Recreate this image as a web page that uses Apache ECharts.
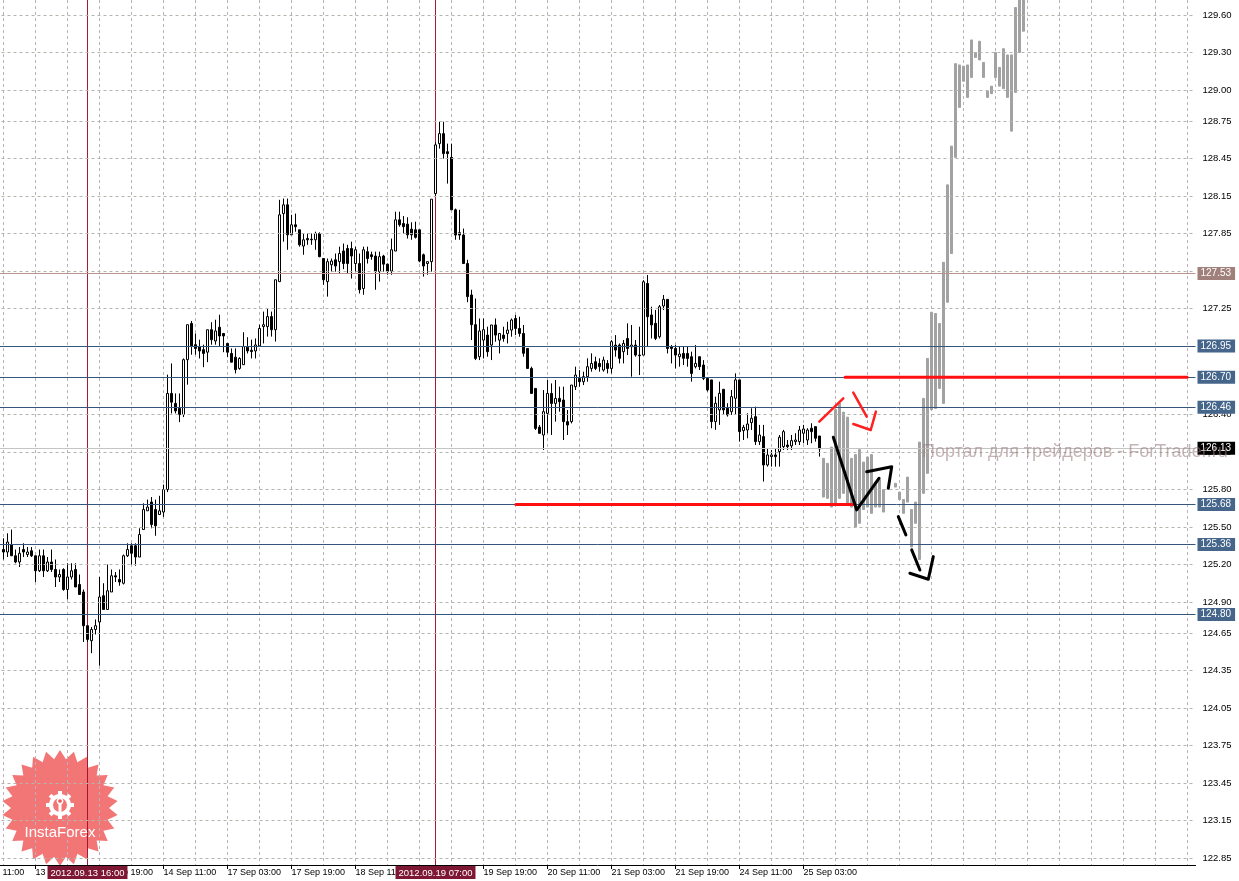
<!DOCTYPE html>
<html><head><meta charset="utf-8">
<script src="https://cdn.jsdelivr.net/npm/echarts@6/dist/echarts.min.js"></script>
<style>html,body{margin:0;padding:0;background:#fff}#c{width:1239px;height:881px}</style>
</head><body><div id="c"></div><script>
// ---- data ----
const categoryCount = 307;           // hourly slots, 12 Sep 11:00 onward
const xTickStep = 16;
const xTickLabels = ["12 Sep 11:00","13 Sep 03:00","13 Sep 19:00","14 Sep 11:00","17 Sep 03:00","17 Sep 19:00","18 Sep 11:00","19 Sep 03:00","19 Sep 19:00","20 Sep 11:00","21 Sep 03:00","21 Sep 19:00","24 Sep 11:00","25 Sep 03:00"];
const yTickValues = [129.60,129.30,129.00,128.75,128.45,128.15,127.85,127.55,127.25,126.95,126.70,126.40,126.10,125.80,125.50,125.20,124.90,124.65,124.35,124.05,123.75,123.45,123.15,122.85];

const firstCandle = 8;
// [open, close, low, high]
const candles = [
[125.32,125.30,125.24,125.41],[125.30,125.38,125.26,125.45],[125.36,125.27,125.27,125.48],[125.27,125.22,125.21,125.32],
[125.22,125.29,125.18,125.34],[125.32,125.30,125.26,125.37],[125.28,125.30,125.26,125.34],[125.31,125.27,125.26,125.34],
[125.27,125.15,125.06,125.27],[125.15,125.27,125.14,125.32],[125.27,125.15,125.10,125.32],[125.15,125.22,125.14,125.26],
[125.22,125.16,125.14,125.32],[125.16,125.10,125.02,125.24],[125.10,125.12,125.06,125.16],[125.16,125.00,124.99,125.17],
[125.00,125.10,124.92,125.21],[125.10,125.15,125.08,125.21],[125.16,125.02,125.02,125.21],[125.04,124.96,124.96,125.12],
[124.98,124.71,124.58,125.00],[124.71,124.60,124.58,124.71],[124.59,124.68,124.49,124.70],[124.68,124.71,124.64,124.76],
[124.74,124.94,124.39,125.10],[124.95,124.84,124.84,125.05],[124.84,124.99,124.84,125.20],[124.98,125.11,124.98,125.16],
[125.11,125.10,125.06,125.14],[125.08,125.06,125.03,125.16],[125.05,125.27,125.04,125.28],[125.27,125.32,125.26,125.37],
[125.35,125.29,125.20,125.37],[125.35,125.26,125.19,125.37],[125.26,125.44,125.26,125.49],[125.48,125.64,125.48,125.69],
[125.63,125.66,125.63,125.72],[125.70,125.52,125.49,125.74],[125.64,125.51,125.43,125.72],[125.60,125.63,125.60,125.75],
[125.62,125.80,125.58,125.84],[125.80,126.57,125.78,126.72],[126.57,126.50,126.41,126.81],[126.49,126.43,126.41,126.57],
[126.45,126.40,126.34,126.57],[126.40,126.84,126.38,126.85],[126.84,127.12,126.64,127.12],[127.13,126.95,126.88,127.15],
[126.96,126.93,126.88,127.05],[126.945,126.91,126.85,127.00],[126.92,126.89,126.78,126.96],[126.90,127.08,126.82,127.08],
[127.08,127.00,126.96,127.14],[126.99,127.07,126.96,127.16],[127.10,127.03,126.95,127.20],[127.05,127.03,126.90,127.05],
[126.97,126.90,126.86,126.97],[126.89,126.82,126.82,126.93],[126.86,126.76,126.73,126.93],[126.77,126.85,126.76,126.86],
[126.80,126.945,126.80,127.06],[126.94,126.91,126.89,127.02],[126.915,126.905,126.85,127.00],[126.91,126.958,126.85,127.01],
[126.95,127.09,126.945,127.12],[127.105,127.12,126.97,127.225],[127.105,127.185,127.025,127.25],[127.185,127.08,127.025,127.225],
[127.08,127.48,126.985,127.48],[127.465,128.00,127.465,128.12],[128.01,128.08,127.785,128.13],[128.08,127.84,127.72,128.13],
[127.84,127.92,127.84,128.00],[127.92,127.905,127.865,128.01],[127.88,127.76,127.745,127.88],[127.75,127.80,127.68,127.85],
[127.81,127.80,127.76,127.85],[127.805,127.80,127.76,127.85],[127.80,127.85,127.72,127.865],[127.85,127.665,127.66,127.86],
[127.65,127.48,127.44,127.65],[127.465,127.625,127.345,127.65],[127.60,127.63,127.545,127.65],[127.64,127.59,127.545,127.69],
[127.625,127.69,127.53,127.745],[127.71,127.61,127.565,127.77],[127.73,127.61,127.53,127.76],[127.73,127.67,127.49,127.785],
[127.61,127.72,127.545,127.745],[127.61,127.40,127.37,127.69],[127.41,127.72,127.36,127.745],[127.705,127.65,127.61,127.745],
[127.68,127.665,127.64,127.705],[127.67,127.545,127.40,127.705],[127.545,127.665,127.465,127.705],[127.67,127.605,127.545,127.68],
[127.605,127.545,127.52,127.61],[127.55,127.72,127.52,127.81],[127.71,127.96,127.71,128.025],[127.96,127.92,127.905,128.025],
[127.93,127.905,127.85,127.99],[127.925,127.84,127.81,127.98],[127.885,127.84,127.80,127.94],[127.88,127.82,127.81,127.945],
[127.88,127.63,127.62,127.88],[127.68,127.59,127.505,127.69],[127.61,127.625,127.52,127.625],[127.625,128.125,127.545,128.125],
[128.17,128.56,128.15,128.58],[128.57,128.65,128.53,128.745],[128.65,128.49,128.45,128.745],[128.505,128.49,128.25,128.57],
[128.46,128.04,128.04,128.57],[128.04,127.838,127.80,128.05],[127.857,127.838,127.80,128.04],[127.838,127.61,127.61,127.89],
[127.61,127.345,127.30,127.64],[127.358,127.12,126.997,127.40],[127.12,126.85,126.837,127.33],[126.864,127.07,126.837,127.17],
[126.997,127.08,126.85,127.17],[127.037,126.904,126.864,127.104],[126.957,127.118,126.837,127.118],[127.118,127.037,126.984,127.17],
[126.997,127.05,126.89,127.05],[127.037,127.01,126.984,127.104],[127.05,127.077,126.97,127.144],[127.077,127.158,127.024,127.17],
[127.17,127.09,127.037,127.198],[127.09,127.05,127.024,127.184],[127.05,126.891,126.864,127.118],[126.93,126.77,126.77,126.93],
[126.77,126.57,126.57,126.784],[126.61,126.29,126.277,126.61],[126.30,126.25,126.25,126.317],[126.237,126.424,126.117,126.597],
[126.41,126.57,126.25,126.677],[126.57,126.49,126.237,126.65],[126.49,126.53,126.344,126.677],[126.53,126.504,126.424,126.624],
[126.517,126.344,126.197,126.624],[126.344,126.317,126.237,126.437],[126.344,126.637,126.33,126.637],[126.624,126.717,126.597,126.784],
[126.69,126.664,126.624,126.757],[126.664,126.704,126.637,126.744],[126.704,126.784,126.664,126.851],[126.77,126.81,126.744,126.891],
[126.824,126.77,126.757,126.864],[126.81,126.784,126.744,126.851],[126.757,126.837,126.744,126.864],[126.81,126.77,126.73,126.837],
[126.77,126.984,126.73,126.997],[126.957,126.917,126.864,127.037],[126.957,126.851,126.81,126.97],[126.904,126.97,126.81,126.997],
[127.01,126.93,126.877,127.131],[126.944,126.957,126.704,127.118],[126.957,126.877,126.864,126.997],[126.877,126.872,126.717,127.104],
[126.877,127.464,126.877,127.477],[127.45,127.184,126.944,127.518],[127.198,127.118,127.01,127.264],[127.131,127.01,126.997,127.238],
[127.024,127.264,127.01,127.278],[127.27,127.323,127.238,127.358],[127.323,126.93,126.89,127.323],[126.944,126.93,126.81,126.957],
[126.93,126.877,126.77,126.957],[126.864,126.885,126.784,126.944],[126.89,126.851,126.797,126.944],[126.89,126.85,126.784,126.944],
[126.864,126.73,126.664,126.904],[126.784,126.81,126.77,126.957],[126.864,126.784,126.757,126.864],[126.797,126.69,126.677,126.837],
[126.69,126.598,126.585,126.69],[126.678,126.344,126.291,126.678],[126.344,126.491,126.278,126.544],[126.438,126.571,126.318,126.664],
[126.603,126.438,126.398,126.603],[126.451,126.398,126.384,126.491],[126.424,126.544,126.398,126.598],[126.531,126.678,126.398,126.731],
[126.678,126.264,126.184,126.678],[126.272,126.299,126.197,126.318],[126.277,126.325,126.211,126.411],[126.336,126.371,126.277,126.451],
[126.384,126.184,126.157,126.464],[126.184,126.237,126.157,126.318],[126.224,125.997,125.864,126.318],[125.997,126.077,125.984,126.131],
[126.064,126.077,125.984,126.117],[126.077,126.064,125.984,126.131],[126.104,126.219,125.984,126.237],[126.144,126.264,126.117,126.278],
[126.157,126.144,126.117,126.197],[126.15,126.192,126.117,126.237],[126.184,126.197,126.157,126.251],[126.184,126.277,126.157,126.309],
[126.251,126.285,126.171,126.318],[126.197,126.277,126.157,126.291],[126.291,126.264,126.171,126.331],[126.304,126.211,126.184,126.304],
[126.229,126.125,126.064,126.229]
];

const firstForecast = 213;
// gray projected bars [low, high]
const forecastBars = [
[125.74,126.05],[125.73,126.01],[125.66,126.14],[125.69,126.44],[125.73,126.49],[125.77,126.42],[125.69,126.38],[125.66,126.05],
[125.50,126.08],[125.53,126.12],[125.64,126.02],[125.66,126.06],[125.61,126.08],[125.66,125.86],[125.66,125.88],[125.62,125.80],
null,null,[125.82,125.85],[125.72,125.78],[125.61,125.72],[125.70,125.90],[125.34,125.64],[125.53,125.70],
[125.24,126.18],[125.77,126.53],[125.93,126.85],[126.44,127.22],[126.45,127.21],[126.61,127.13],[126.49,127.62],[127.30,128.24],
[127.69,128.55],[128.46,129.21],[128.86,129.20],[129.07,129.19],[128.94,129.20],[129.10,129.40],[129.26,129.30],[129.24,129.39],
[129.10,129.22],[128.94,128.99],[128.97,129.03],[129.10,129.30],[129.03,129.18],[129.01,129.33],[128.94,129.28],[128.67,129.28],
[128.98,129.66],[129.30,129.80],[129.47,129.80]
];

const blueLevels = [126.95, 126.70, 126.46, 125.68, 125.36, 124.80];
const brownLevel = 127.53;
const bidLevel = 126.13;
const verticalMarks = [{index: 29, label: "2012.09.13 16:00"}, {index: 116, label: "2012.09.19 07:00"}];

// hand-drawn annotations, in (slot, price)
const redLevelSegments = [[[136.1,125.68],[220.9,125.68]], [[218.4,126.70],[303.9,126.70]]];
const redStrokes = [
  [[211.95,126.344],[217.95,126.531]],
  [[220.45,126.576],[223.8,126.384]],
  [[220.45,126.325],[224.8,126.277],[226.1,126.424]]
];
const blackStrokes = [
  [[215.45,126.219],[221.3,125.637],[226.9,125.891]],
  [[223.8,125.943],[230.05,125.983],[229.2,125.81]],
  [[231.7,125.583],[233.6,125.437]],
  [[235.05,125.317],[237.1,125.156]],
  [[234.6,125.130],[239.2,125.082],[240.45,125.263]]
];

// ---- build ----
const FONT = "'Liberation Sans', Arial, sans-serif";
const Y_MIN = 122.794, Y_MAX = 129.72;
const cats = [];
for (let i = 0; i < categoryCount; i++) cats.push(String(i));
const emptyC = ['-','-','-','-'];
const candleData = cats.map(() => emptyC);
candles.forEach((c, k) => { candleData[firstCandle + k] = c; });
const forecastData = cats.map(() => emptyC);
forecastBars.forEach((b, k) => { if (b) forecastData[firstForecast + k] = [b[0], b[1], b[0], b[1]]; });

function isTick(idx) { return idx % xTickStep === 0 && (idx / xTickStep) < xTickLabels.length; }

const gridLineData = yTickValues.map(v => ({yAxis: v}));
const levelLines = [];
levelLines.push({yAxis: brownLevel, lineStyle: {color: '#b8958c', width: 1, type: 'solid'},
  label: {backgroundColor: '#a0807a'}});
blueLevels.forEach(v => levelLines.push({yAxis: v, lineStyle: {color: '#35557a', width: 1, type: 'solid'},
  label: {backgroundColor: '#45658a'}}));
levelLines.push({yAxis: bidLevel, lineStyle: {color: '#c4c4c4', width: 1, type: 'solid'},
  label: {backgroundColor: '#000000'}});

// vertical time markers: thin filled band (1px) + bottom badge
const vMarkSeries = {
  type: 'line', xAxisIndex: 1, yAxisIndex: 0, data: [], silent: true, z: 5, animation: false,
  markArea: {
    silent: true, animation: false, label: {show: false},
    itemStyle: {color: '#a3102f', opacity: 1, borderWidth: 0},
    data: verticalMarks.map(m => [{xAxis: m.index - 0.12}, {xAxis: m.index + 0.12}])
  },
  markPoint: {
    silent: true, animation: false, symbol: 'rect', symbolSize: 0,
    label: {show: true, position: 'bottom', distance: 1, color: '#ffffff',
      backgroundColor: '#7d1733', padding: [2, 3, 1, 3], fontSize: 9.5, fontFamily: FONT},
    data: verticalMarks.map(m => ({coord: [m.index, Y_MIN], label: {formatter: m.label}}))
  }
};

const strokeSeries = [];
function addStrokes(list, color, width) {
  list.forEach(pts => strokeSeries.push({
    type: 'line', xAxisIndex: 1, yAxisIndex: 0, data: pts, symbol: 'none', silent: true,
    lineStyle: {color: color, width: width, cap: 'round', join: 'round'}, z: 6, animation: false
  }));
}
addStrokes(redLevelSegments, '#ff1010', 3);
addStrokes(redStrokes, '#ff2020', 2.5);
addStrokes(blackStrokes, '#000000', 3);

// logo star points (decoration)
const star = [];
const nPts = 26, cx = 60, cy = 808, rO = 58, rI = 49;
for (let i = 0; i < nPts * 2; i++) {
  const a = Math.PI * i / nPts - Math.PI / 2;
  const r = i % 2 === 0 ? rO : rI;
  star.push([cx + r * Math.cos(a), cy + r * Math.sin(a)]);
}
const gearTeeth = [];
for (let i = 0; i < 8; i++) {
  const a = Math.PI * i / 4;
  gearTeeth.push({type: 'rect', x: 60, y: 805, rotation: -a, originX: 0, originY: 0,
    shape: {x: -2, y: 9, width: 4, height: 5}, style: {fill: '#fff'}, z: 1, silent: true});
}

const chart = echarts.init(document.getElementById('c'), null, {renderer: 'canvas'});
chart.setOption({
  animation: false,
  backgroundColor: '#ffffff',
  grid: {left: -28.5, right: 43.5, top: 0, bottom: 16, containLabel: false, outerBoundsMode: 'none'},
  xAxis: [{
    type: 'category', data: cats, boundaryGap: false,
    axisLine: {show: true, lineStyle: {color: '#000', width: 1}},
    axisTick: {show: true, length: 4, interval: (idx) => isTick(idx), lineStyle: {color: '#000'}},
    axisLabel: {show: true, interval: (idx) => isTick(idx), align: 'left', margin: 3,
      formatter: (v, idx) => isTick(idx) ? xTickLabels[idx / xTickStep] : '',
      color: '#000', fontSize: 9, fontFamily: FONT},
    splitLine: {show: true, interval: (idx) => idx % 8 === 0, lineStyle: {color: '#bcaebc', type: [3, 3], width: 1}}
  }, {
    type: 'value', min: 0, max: categoryCount - 1, show: false
  }],
  yAxis: [{
    type: 'value', position: 'right', offset: 2, min: Y_MIN, max: Y_MAX, scale: true,
    axisLine: {show: true, lineStyle: {color: '#000', width: 1}},
    axisTick: {show: true, length: 4, customValues: yTickValues, lineStyle: {color: '#000'}},
    axisLabel: {show: true, customValues: yTickValues, margin: 5, formatter: v => v.toFixed(2),
      color: '#000', fontSize: 9.5, fontFamily: FONT},
    splitLine: {show: false}
  }],
  series: [{
    type: 'line', data: [], xAxisIndex: 0, yAxisIndex: 0, silent: true, z: 1,
    markLine: {silent: true, symbol: 'none', animation: false, label: {show: false},
      lineStyle: {color: '#b4b4ac', type: [3, 3], width: 1}, data: gridLineData}
  }, {
    type: 'candlestick', name: 'forecast', data: forecastData, barWidth: 2, silent: true, z: 3,
    itemStyle: {color: '#a2a2a2', color0: '#a2a2a2', borderColor: '#a2a2a2', borderColor0: '#a2a2a2', borderWidth: 1}
  }, {
    type: 'candlestick', name: 'USDJPY H1', data: candleData, barWidth: 2, silent: true, z: 4,
    itemStyle: {color: '#ffffff', color0: '#000000', borderColor: '#000000', borderColor0: '#000000', borderWidth: 1},
    markLine: {silent: true, symbol: 'none', animation: false, precision: 2,
      label: {show: true, position: 'end', distance: 2, color: '#ffffff', fontSize: 10, fontFamily: FONT,
        padding: [2, 4, 1, 3], formatter: p => Number(p.value).toFixed(2)},
      data: levelLines}
  }, vMarkSeries].concat(strokeSeries),
  graphic: [
    {type: 'polygon', shape: {points: star}, style: {fill: 'rgba(240,88,88,0.82)'}, z: 0, silent: true},
    {type: 'circle', shape: {cx: 60, cy: 805, r: 9}, style: {fill: 'none', stroke: '#fff', lineWidth: 4}, z: 1, silent: true}
  ].concat(gearTeeth).concat([
    {type: 'circle', shape: {cx: 60, cy: 801, r: 2.6}, style: {fill: 'rgba(240,88,88,1)', stroke: '#fff', lineWidth: 1.5}, z: 2, silent: true},
    {type: 'rect', shape: {x: 58.5, y: 804, width: 3, height: 13}, style: {fill: '#fff'}, z: 2, silent: true},
    {type: 'text', x: 60, y: 833, style: {text: 'InstaForex', fill: '#ffffff', font: '15px ' + FONT, align: 'center', verticalAlign: 'middle'}, z: 2, silent: true},
    {type: 'text', x: 922, y: 452, style: {text: 'Портал для трейдеров - ForTrader.ru', fill: 'rgba(150,118,118,0.55)', font: '18px ' + FONT, align: 'left', verticalAlign: 'middle'}, z: 100, silent: true}
  ])
});
</script></body></html>
